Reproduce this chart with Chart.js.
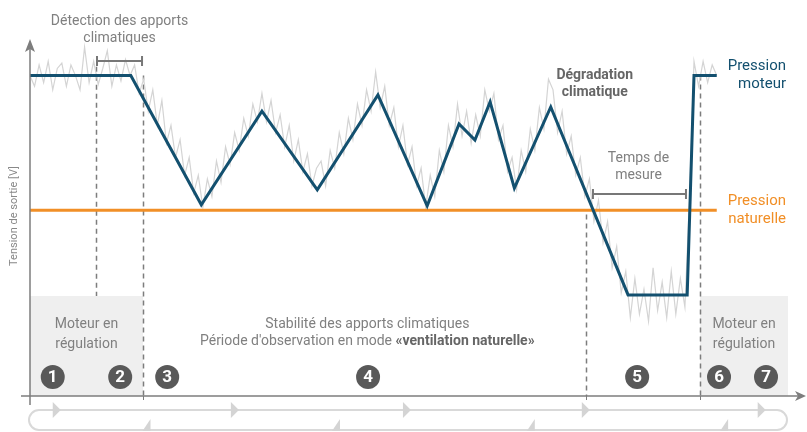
<!DOCTYPE html>
<html><head><meta charset="utf-8">
<script src="https://cdn.jsdelivr.net/npm/chart.js@4/dist/chart.umd.min.js"></script>
<style>html,body{margin:0;padding:0;background:#fff;overflow:hidden}canvas{display:block}</style>
</head><body>
<canvas id="c" width="807" height="432"></canvas>
<script>
// ---- DATA (time units 0..100, voltage units 0..10) ----
const motorTimes  = [0, 13.3, 22.6, 30.6, 37.9, 45.9, 52.4, 56.6, 58.7, 60.7, 63.9, 68.7, 78.9, 86.7, 87.6, 90.6];
const motorValues = [9.0, 9.0, 5.37, 8.0, 5.79, 8.46, 5.34, 7.64, 7.19, 8.26, 5.84, 8.12, 2.84, 2.84, 9.0, 9.0];
const naturalTimes  = [0, 90.6];
const naturalValues = [5.22, 5.22];
const SAMPLE_STEP = 0.6;
const measuredValues = [
  9.0, 8.7, 9.3, 8.8, 9.4, 8.6, 9.2, 9.35, 8.7, 9.3, 9.0, 8.6, 9.8, 8.8, 9.4, 8.75, 9.2, 9.7, 8.7, 9.3, 8.85, 9.45, 9.0,
  9.3, 8.5, 8.9, 8.0, 8.6, 7.6, 8.3, 7.1, 7.6, 6.7, 7.2, 6.2, 6.7, 5.7, 6.2,
  5.3, 6.1, 5.6, 6.6, 6.0, 7.0, 6.5, 7.4, 6.9, 7.8, 7.3, 8.2, 7.7, 8.5,
  7.7, 8.3, 7.4, 7.9, 7.0, 7.6, 6.6, 7.2, 6.3, 6.8, 5.9, 6.4,
  6.6, 5.9, 6.9, 6.4, 7.4, 6.8, 7.8, 7.2, 8.2, 7.6, 8.6, 8.0, 9.1,
  8.1, 8.7, 7.6, 8.1, 7.0, 7.6, 6.5, 7.0, 5.9, 6.4, 5.3,
  6.2, 5.6, 6.9, 6.3, 7.6, 7.0, 8.2,
  7.3, 8.0, 7.1,
  7.9, 7.3, 8.6, 8.0,
  8.5, 7.2, 7.6, 6.3, 6.7,
  5.8, 6.9, 6.3, 7.5, 6.9, 8.1, 7.5, 8.9,
  8.6, 7.4, 8.0, 6.8, 7.3, 6.2, 6.7, 5.6, 6.1, 4.9, 5.5, 4.3, 4.9, 3.6, 4.2, 2.9, 3.5,
  2.2, 3.3, 2.3, 3.0, 2.1, 3.6, 2.4, 3.2, 2.2, 3.5, 2.3, 3.3, 2.5,
  5.5, 9.4, 8.7, 9.4, 8.8, 9.3, 9.0
];
const detectionStart = 8.7, phase3Start = 14.9, phase5Start = 73.35, phase6Start = 88.4;
const regulationLevel = 2.81;
const stepLabels = ['1','2','3','4','5','6','7'];
const stepTimes  = [3.0, 11.9, 18.1, 44.6, 80.1, 90.9, 97.1];
const detectionBracket = [8.84, 14.78, 9.41];
const measureBracket   = [74.27, 86.54, 5.67];
const loopRightArrows = [3.0, 26.5, 49.2, 72.8, 96.0];
const loopLeftArrows  = [15.9, 40.9, 66.6, 92.1];

// ---- STYLE ----
const BLUE = '#13506f', ORANGE = '#f18f27', GREY = '#7d7d7d', TXT = '#808080';
const REG = '"Roboto", "Liberation Sans", sans-serif';
const NARROW = '"Roboto", "Liberation Sans", sans-serif';

const toXY = (ts, vs) => ts.map((t, i) => ({x: t, y: vs[i]}));
const measured = measuredValues.map((v, i) => ({x: i * SAMPLE_STEP, y: v}));

function text(ctx, s, px, py, font, color, align) {
  ctx.font = font; ctx.fillStyle = color; ctx.textAlign = align || 'center'; ctx.textBaseline = 'middle';
  ctx.fillText(s, px, py);
}

const deco = {
  id: 'deco',
  beforeDatasetsDraw(chart) {
    const {ctx, scales: {x, y}} = chart;
    ctx.save();
    ctx.fillStyle = '#efefef';
    [[0, phase3Start], [phase6Start, 100]].forEach(([a, b]) => {
      const x0 = x.getPixelForValue(a), x1 = x.getPixelForValue(b);
      const y0 = y.getPixelForValue(regulationLevel), y1 = y.getPixelForValue(0);
      ctx.fillRect(x0, y0, x1 - x0, y1 - y0);
    });
    ctx.setLineDash([5, 4]); ctx.strokeStyle = GREY; ctx.lineWidth = 1.5;
    [[detectionStart, 9.25, regulationLevel], [phase3Start, 9.0, 0], [phase5Start, 5.1, 0], [phase6Start, 9.0, 0]].forEach(([t, v0, v1]) => {
      const px = Math.round(x.getPixelForValue(t)) + 0.5;
      ctx.beginPath(); ctx.moveTo(px, y.getPixelForValue(v0)); ctx.lineTo(px, y.getPixelForValue(v1)); ctx.stroke();
    });
    ctx.restore();
  },
  afterDatasetsDraw(chart) {
    const {ctx, chartArea: ca, scales: {x, y}} = chart;
    ctx.save();
    // axes
    ctx.strokeStyle = GREY; ctx.fillStyle = GREY; ctx.lineWidth = 1.5;
    const ox = x.getPixelForValue(0), oy = y.getPixelForValue(0);
    ctx.beginPath(); ctx.moveTo(ox, oy + 9); ctx.lineTo(ox, ca.top + 8); ctx.stroke();
    ctx.beginPath(); ctx.moveTo(ox, ca.top - 1); ctx.lineTo(ox - 5, ca.top + 12); ctx.lineTo(ox, ca.top + 9); ctx.lineTo(ox + 5, ca.top + 12); ctx.closePath(); ctx.fill();
    ctx.beginPath(); ctx.moveTo(ox - 9, oy); ctx.lineTo(ca.right + 10, oy); ctx.stroke();
    ctx.beginPath(); ctx.moveTo(ca.right + 18, oy); ctx.lineTo(ca.right + 7, oy - 5); ctx.lineTo(ca.right + 10, oy); ctx.lineTo(ca.right + 7, oy + 5); ctx.closePath(); ctx.fill();
    ctx.lineWidth = 1;
    [phase3Start, phase5Start, phase6Start].forEach(t => {
      const px = Math.round(x.getPixelForValue(t)) + 0.5;
      ctx.beginPath(); ctx.moveTo(px, oy); ctx.lineTo(px, oy + 4); ctx.stroke();
    });
    // brackets
    ctx.lineWidth = 2; ctx.strokeStyle = '#777';
    [detectionBracket, measureBracket].forEach(([a, b, v]) => {
      const x0 = x.getPixelForValue(a), x1 = x.getPixelForValue(b), py = Math.round(y.getPixelForValue(v));
      ctx.beginPath(); ctx.moveTo(x0, py); ctx.lineTo(x1, py);
      ctx.moveTo(x0, py - 5); ctx.lineTo(x0, py + 5); ctx.moveTo(x1, py - 5); ctx.lineTo(x1, py + 5); ctx.stroke();
    });
    // loop
    const lx0 = x.getPixelForValue(0) - 1, lx1 = x.getPixelForValue(100) - 1, ly0 = 410, ly1 = 430, r = 10;
    ctx.strokeStyle = '#d9d9d9'; ctx.fillStyle = '#d4d4d4'; ctx.lineWidth = 2;
    ctx.beginPath();
    ctx.moveTo(lx0 + r, ly0); ctx.lineTo(lx1 - r, ly0);
    ctx.arc(lx1 - r, ly0 + r, r, -Math.PI / 2, Math.PI / 2);
    ctx.lineTo(lx0 + r, ly1);
    ctx.arc(lx0 + r, ly0 + r, r, Math.PI / 2, Math.PI * 1.5);
    ctx.stroke();
    loopRightArrows.forEach(t => {
      const px = x.getPixelForValue(t);
      ctx.beginPath(); ctx.moveTo(px, ly0 - 8); ctx.lineTo(px + 8, ly0); ctx.lineTo(px, ly0 + 8); ctx.closePath(); ctx.fill();
    });
    loopLeftArrows.forEach(t => {
      const px = x.getPixelForValue(t);
      ctx.beginPath(); ctx.moveTo(px, ly1 - 11); ctx.lineTo(px, ly1 + 1); ctx.lineTo(px - 8, ly1 + 1); ctx.closePath(); ctx.fill();
    });
    // step circles
    stepTimes.forEach((t, i) => {
      const px = x.getPixelForValue(t), py = 377;
      ctx.fillStyle = '#595959'; ctx.beginPath(); ctx.arc(px, py, 12, 0, Math.PI * 2); ctx.fill();
      text(ctx, stepLabels[i], px, py + 1, 'bold 17px ' + NARROW, '#ffffff');
    });
    // labels
    const f14 = '14px ' + REG;
    const cx = (a, b) => (x.getPixelForValue(a) + x.getPixelForValue(b)) / 2;
    text(ctx, 'Détection des apports', cx(detectionBracket[0], detectionBracket[1]), 21, f14, TXT);
    text(ctx, 'climatiques', cx(detectionBracket[0], detectionBracket[1]), 38, f14, TXT);
    text(ctx, 'Temps de', cx(measureBracket[0], measureBracket[1]) - 1, 158, f14, TXT);
    text(ctx, 'mesure', cx(measureBracket[0], measureBracket[1]) - 1, 175, f14, TXT);
    text(ctx, 'Dégradation', x.getPixelForValue(74.5), 75, 'bold 14px ' + NARROW, '#666');
    text(ctx, 'climatique', x.getPixelForValue(74.5), 92, 'bold 14px ' + NARROW, '#666');
    text(ctx, 'Moteur en', cx(0, phase3Start), 324, f14, TXT);
    text(ctx, 'régulation', cx(0, phase3Start), 344, f14, TXT);
    text(ctx, 'Moteur en', cx(phase6Start, 100), 324, f14, TXT);
    text(ctx, 'régulation', cx(phase6Start, 100), 344, f14, TXT);
    const sc = x.getPixelForValue(44.5);
    text(ctx, 'Stabilité des apports climatiques', sc, 324, f14, TXT);
    const parts = [["Période d'observation en mode ", f14, TXT], ['«ventilation naturelle»', 'bold 14px ' + NARROW, '#666']];
    let tw = 0; parts.forEach(p => { ctx.font = p[1]; tw += ctx.measureText(p[0]).width; });
    let px = sc - tw / 2;
    parts.forEach(p => { text(ctx, p[0], px, 341, p[1], p[2], 'left'); ctx.font = p[1]; px += ctx.measureText(p[0]).width; });
    const f15 = '15px ' + REG;
    text(ctx, 'Pression', ca.right - 2, 66, f15, BLUE, 'right');
    text(ctx, 'moteur', ca.right - 2, 84, f15, BLUE, 'right');
    text(ctx, 'Pression', ca.right - 2, 201, f15, ORANGE, 'right');
    text(ctx, 'naturelle', ca.right - 2, 219, f15, ORANGE, 'right');
    // y title
    ctx.translate(14, 216); ctx.rotate(-Math.PI / 2);
    text(ctx, 'Tension de sortie [V]', 0, 0, '11px ' + REG, '#888');
    ctx.restore();
  }
};

new Chart(document.getElementById('c'), {
  type: 'line',
  data: {
    datasets: [
      {data: toXY(motorTimes, motorValues), borderColor: BLUE, borderWidth: 3, borderJoinStyle: 'miter', order: 1},
      {data: toXY(naturalTimes, naturalValues), borderColor: ORANGE, borderWidth: 3, order: 2},
      {data: measured, borderColor: '#d4d4d4', borderWidth: 1.2, order: 3}
    ]
  },
  options: {
    responsive: false, animation: false, devicePixelRatio: 1,
    layout: {padding: {left: 30, right: 19, top: 40, bottom: 36}},
    elements: {point: {radius: 0}, line: {tension: 0}},
    plugins: {legend: {display: false}, tooltip: {enabled: false}},
    scales: {
      x: {type: 'linear', min: 0, max: 100, display: false},
      y: {type: 'linear', min: 0, max: 10, display: false}
    }
  },
  plugins: [deco]
});
</script>
</body></html>
